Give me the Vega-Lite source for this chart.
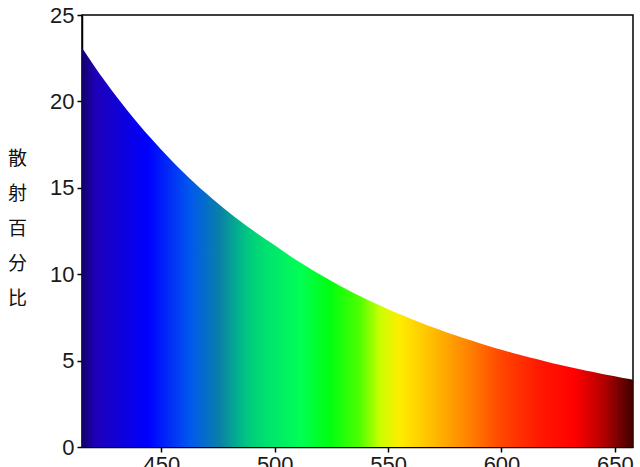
{
  "$schema": "https://vega.github.io/schema/vega-lite/v6.json",
  "width": 551,
  "height": 432,
  "autosize": {"type": "none"},
  "padding": {"left": 82, "top": 15, "right": 7, "bottom": 20},
  "background": "white",
  "config": {
    "view": {"stroke": "black", "strokeWidth": 1.5},
    "axis": {
      "labelFont": "Liberation Sans",
      "labelFontSize": 22,
      "labelColor": "#1a1a1a",
      "domainColor": "black",
      "domainWidth": 1.5,
      "tickColor": "black",
      "tickWidth": 1.5,
      "tickSize": 5,
      "grid": false
    }
  },
  "data": {
    "values": [
      {"wavelength": 415, "scatter": 23.1},
      {"wavelength": 420, "scatter": 22.12},
      {"wavelength": 425, "scatter": 21.19},
      {"wavelength": 430, "scatter": 20.31},
      {"wavelength": 435, "scatter": 19.47},
      {"wavelength": 440, "scatter": 18.68},
      {"wavelength": 445, "scatter": 17.92},
      {"wavelength": 450, "scatter": 17.2},
      {"wavelength": 455, "scatter": 16.51},
      {"wavelength": 460, "scatter": 15.86},
      {"wavelength": 465, "scatter": 15.24},
      {"wavelength": 470, "scatter": 14.65},
      {"wavelength": 475, "scatter": 14.09},
      {"wavelength": 480, "scatter": 13.56},
      {"wavelength": 485, "scatter": 13.05},
      {"wavelength": 490, "scatter": 12.57},
      {"wavelength": 495, "scatter": 12.11},
      {"wavelength": 500, "scatter": 11.67},
      {"wavelength": 505, "scatter": 11.21},
      {"wavelength": 510, "scatter": 10.78},
      {"wavelength": 515, "scatter": 10.37},
      {"wavelength": 520, "scatter": 9.98},
      {"wavelength": 525, "scatter": 9.6},
      {"wavelength": 530, "scatter": 9.24},
      {"wavelength": 535, "scatter": 8.9},
      {"wavelength": 540, "scatter": 8.58},
      {"wavelength": 545, "scatter": 8.27},
      {"wavelength": 550, "scatter": 7.97},
      {"wavelength": 555, "scatter": 7.69},
      {"wavelength": 560, "scatter": 7.42},
      {"wavelength": 565, "scatter": 7.16},
      {"wavelength": 570, "scatter": 6.91},
      {"wavelength": 575, "scatter": 6.67},
      {"wavelength": 580, "scatter": 6.45},
      {"wavelength": 585, "scatter": 6.23},
      {"wavelength": 590, "scatter": 6.02},
      {"wavelength": 595, "scatter": 5.82},
      {"wavelength": 600, "scatter": 5.63},
      {"wavelength": 605, "scatter": 5.44},
      {"wavelength": 610, "scatter": 5.27},
      {"wavelength": 615, "scatter": 5.1},
      {"wavelength": 620, "scatter": 4.94},
      {"wavelength": 625, "scatter": 4.78},
      {"wavelength": 630, "scatter": 4.63},
      {"wavelength": 635, "scatter": 4.49},
      {"wavelength": 640, "scatter": 4.35},
      {"wavelength": 645, "scatter": 4.21},
      {"wavelength": 650, "scatter": 4.09},
      {"wavelength": 655, "scatter": 3.96},
      {"wavelength": 658, "scatter": 3.89}
    ]
  },
  "mark": {
    "type": "area",
    "interpolate": "monotone",
    "color": {
      "gradient": "linear",
      "x1": 0, "x2": 1, "y1": 0, "y2": 0,
      "stops": [
        {"offset": 0, "color": "#14006a"},
        {"offset": 0.024, "color": "#1e00b8"},
        {"offset": 0.12, "color": "#0000ff"},
        {"offset": 0.196, "color": "#0058ee"},
        {"offset": 0.25, "color": "#0a80a8"},
        {"offset": 0.3, "color": "#00c880"},
        {"offset": 0.332, "color": "#00e070"},
        {"offset": 0.396, "color": "#00ff55"},
        {"offset": 0.45, "color": "#00ff10"},
        {"offset": 0.505, "color": "#50ff00"},
        {"offset": 0.54, "color": "#c8ff00"},
        {"offset": 0.577, "color": "#ffec00"},
        {"offset": 0.632, "color": "#ffc000"},
        {"offset": 0.704, "color": "#ff8000"},
        {"offset": 0.759, "color": "#ff4800"},
        {"offset": 0.831, "color": "#ff1800"},
        {"offset": 0.895, "color": "#ff0000"},
        {"offset": 0.949, "color": "#b00000"},
        {"offset": 1, "color": "#400000"}
      ]
    }
  },
  "encoding": {
    "x": {
      "field": "wavelength",
      "type": "quantitative",
      "scale": {"domain": [415, 658], "nice": false, "zero": false},
      "axis": {"values": [450, 500, 550, 600, 650], "title": null, "labelPadding": 2}
    },
    "y": {
      "field": "scatter",
      "type": "quantitative",
      "scale": {"domain": [0, 25], "nice": false},
      "axis": {
        "values": [0, 5, 10, 15, 20, 25],
        "title": ["散", "射", "百", "分", "比"],
        "titleAngle": 0,
        "titleFont": "Noto Sans CJK SC",
        "titleFontSize": 19,
        "titleFontWeight": "normal",
        "titleColor": "#111111",
        "titleLineHeight": 35,
        "titleAlign": "center",
        "titleBaseline": "middle",
        "titleX": -65,
        "titleY": 143,
        "labelPadding": 3
      }
    }
  }
}
